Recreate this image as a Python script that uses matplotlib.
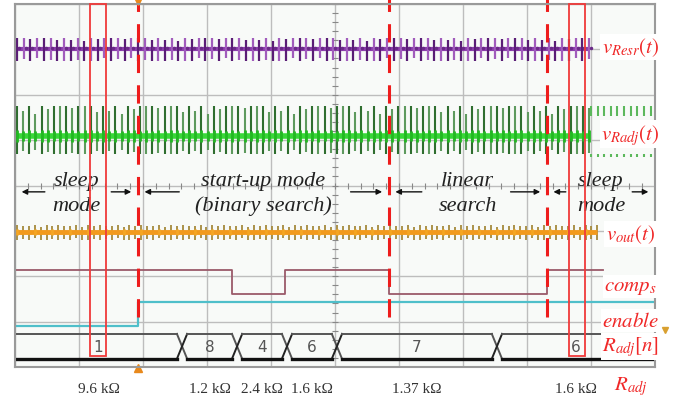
import matplotlib
matplotlib.use('Agg')
import matplotlib.pyplot as plt
from matplotlib.patches import Rectangle
import numpy as np

# scope screen: 10 x 8 divisions, time in divisions
events = [1.92, 5.84, 8.31]          # red dashed boundaries
sample_windows = [(1.17, 1.42), (8.66, 8.91)]

mode_names = ['sleep\nmode', 'start-up mode\n(binary search)', 'linear\nsearch', 'sleep\nmode']
mode_bounds = [0.0, 1.92, 5.84, 8.31, 10.0]

comp_t = [0.0, 3.39, 4.22, 5.84, 8.31, 9.19]
comp_state = [1, 0, 1, 0, 1, 1]

enable_t = [0.0, 1.92, 10.0]
enable_state = [0, 1, 1]

bus_edges = [2.61, 3.47, 4.25, 5.03, 7.53]
bus_values = ['1', '8', '4', '6', '7', '6']
r_values = ['9.6 kΩ', '1.2 kΩ', '2.4 kΩ', '1.6 kΩ', '1.37 kΩ', '1.6 kΩ']

# pulse trains (start, end, pulse count)
resr_span = (0.03, 8.97, 86)
radj_span = (0.03, 8.97, 94)
radj_tail = (9.0, 9.93, 10)
out_span = (0.03, 9.1, 99)
amp_pattern = [1.0, 0.85, 0.95, 0.75, 1.0, 0.9, 0.8]

plt.rcParams['mathtext.fontset'] = 'stix'

fig = plt.figure(figsize=(6.81, 4.02), dpi=100)
ax = fig.add_axes([15/681, (402-368)/402, 640/681, 363/402])
ax.set_xlim(0, 10)
ax.set_ylim(0, 8)
ax.set_facecolor('#f8faf8')
ax.set_xticks(range(11))
ax.set_yticks(range(9))
ax.tick_params(length=0, labelbottom=False, labelleft=False)
ax.grid(color='#bdbdbd', lw=1)
for s in ax.spines.values():
    s.set_color('#9a9a9a')
    s.set_linewidth(1.5)

# center axis ticks
minor = np.arange(0, 10.01, 0.2)
ax.plot(minor, np.full_like(minor, 4), '|', color='#888', ms=4, mew=0.8)
minor_y = np.arange(0, 8.01, 0.2)
ax.plot(np.full_like(minor_y, 5), minor_y, '_', color='#888', ms=4, mew=0.8)


def pulses(span):
    t0, t1, n = span
    return np.linspace(t0, t1, n)


def amps(n):
    return np.resize(amp_pattern, n)


# v_Resr : purple
t = pulses(resr_span)
a = amps(len(t))
ax.plot([t[0], t[-1]], [7.0, 7.0], color='#8d3fae', lw=3, solid_capstyle='butt')
ax.vlines(t[::2], 7.0 - 0.25, 7.0 + 0.25 * a[::2], color='#5a1d76', lw=1.6)
ax.vlines(t[1::2], 7.0 - 0.25 * a[1::2], 7.0 + 0.25, color='#a15cbc', lw=1.6)
ax.plot(t + 0.03, np.full_like(t, 7.04), '.', color='#6a2a88', ms=3)

# v_Radj : green
t = pulses(radj_span)
a = amps(len(t))
ax.vlines(t[::2], 5.09 - 0.40, 5.09 + 0.66, color='#2f6e2f', lw=1.5)
ax.vlines(t[1::2], 5.09 - 0.40 * a[1::2], 5.09 + 0.66 * a[1::2], color='#5e9a5e', lw=1.5)
ax.plot([t[0], t[-1]], [5.09, 5.09], color='#38d838', lw=4, solid_capstyle='butt')
ax.vlines(t, 5.09 - 0.14 * a, 5.09 + 0.14 * a, color='#22b822', lw=2)
tt = pulses(radj_tail)
ax.vlines(tt, 5.09 + 0.44, 5.09 + 0.66, color='#5cb85c', lw=1.5)
ax.vlines(tt, 5.09 - 0.46, 5.09 - 0.40, color='#5cb85c', lw=1.5)

# v_out : orange
t = pulses(out_span)
a = amps(len(t))
ax.vlines(t, 2.97 - 0.18 * a, 2.97 + 0.16 * a[::-1], color='#a48a3c', lw=1.3)
ax.plot([t[0], t[-1]], [2.97, 2.97], color='#f29a1c', lw=3.5, solid_capstyle='butt')
ax.vlines(t[::3], 2.92, 3.05, color='#f5a623', lw=2)

# comp_s and enable
comp_lvl = {1: 2.14, 0: 1.61}
ax.step(comp_t, [comp_lvl[s] for s in comp_state], where='post', color='#9a5a6a', lw=1.3)
en_lvl = {0: 0.90, 1: 1.43}
ax.step(enable_t, [en_lvl[s] for s in enable_state], where='post', color='#4fbfca', lw=1.6)

# R_adj[n] bus
top, bot, w = 0.73, 0.18, 0.08
xs_top, ys_top, xs_bot, ys_bot = [0.0], [top], [0.0], [bot]
for e in bus_edges:
    xs_top += [e - w, e + w]
    ys_top += [top, bot]
    xs_bot += [e - w, e + w]
    ys_bot += [bot, top]
    ax.plot([e - w, e + w], [top, bot], color='#555', lw=1.4)
    ax.plot([e - w, e + w], [bot, top], color='#222', lw=1.4)
seg_start = [0.0] + bus_edges
seg_end = bus_edges + [10.0]
for s, e in zip(seg_start, seg_end):
    s2 = s + (w if s > 0 else 0)
    e2 = e - (w if e < 10 else 0)
    ax.plot([s2, e2], [top, top], color='#555', lw=1.4)
    ax.plot([s2, e2], [bot, bot], color='#111', lw=2.4)
centers = [(s + e) / 2 for s, e in zip(seg_start, seg_end)]
for c, v, r in zip(centers, bus_values, r_values):
    ax.text(c, 0.45, v, ha='center', va='center', fontsize=11, color='#555')
    ax.text(c, -0.48, r, ha='center', va='center', fontsize=11, color='#333',
            family='Liberation Serif', clip_on=False)

# red dashed boundaries and sampling windows
for e in events:
    ax.plot([e, e], [1.10, 8.1], color='#ee1c1c', lw=2.2, dashes=(6, 4), clip_on=False)
for s, e in sample_windows:
    ax.add_patch(Rectangle((s, 0.24), e - s, 7.76, fill=False, ec='#f03a3a', lw=1.3,
                           clip_on=False, zorder=5))

# trigger markers
ax.plot(events[0], 8.06, 'v', color='#e8891c', ms=6, clip_on=False)
ax.plot(events[0], -0.02, '^', color='#e8891c', ms=6, clip_on=False)
ax.plot(10.16, 0.82, 'v', color='#d9a030', ms=4, clip_on=False)

# mode labels with arrows
arrow_len = [(0.45, 0.40), (0.63, 0.58), (0.50, 0.55), (0.28, 0.34)]
for name, s, e, (ll, rl) in zip(mode_names, mode_bounds[:-1], mode_bounds[1:], arrow_len):
    c = (s + e) / 2
    l1, l2 = name.split('\n')
    ax.text(c, 4.10, l1, ha='center', va='center', fontsize=16, style='italic',
            family='Liberation Serif', color='#222')
    ax.text(c, 3.57, l2, ha='center', va='center', fontsize=16, style='italic',
            family='Liberation Serif', color='#222')
    ax.annotate('', xy=(s + 0.06, 3.86), xytext=(s + 0.06 + ll, 3.86),
                arrowprops=dict(arrowstyle='-|>', color='#111', lw=1, mutation_scale=8))
    ax.annotate('', xy=(e - 0.06, 3.86), xytext=(e - 0.06 - rl, 3.86),
                arrowprops=dict(arrowstyle='-|>', color='#111', lw=1, mutation_scale=8))

# right-hand signal names
sig_names = [r'$v_{Resr}(t)$', r'$v_{Radj}(t)$', r'$v_{out}(t)$', r'$comp_s$',
             r'$enable$', r'$R_{adj}[n]$', r'$R_{adj}$']
sig_y = [7.05, 5.13, 2.93, 1.78, 1.03, 0.46, -0.40]
for name, y in zip(sig_names, sig_y):
    ax.text(9.62, y, name, ha='center', va='center', fontsize=15, color='#f02828',
            clip_on=False, zorder=6,
            bbox=dict(fc='white', ec='none', pad=1) if y > 0 else None)

fig.savefig('out.png', dpi=100, facecolor='white')
